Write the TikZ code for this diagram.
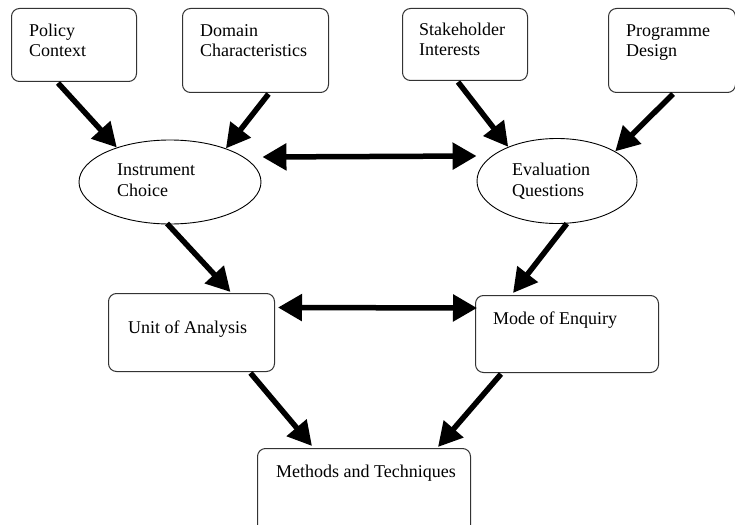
\documentclass[tikz,border=0pt]{standalone}
\usepackage{fontspec}
\setmainfont{Liberation Serif}
\usetikzlibrary{arrows.meta,calc,shapes.geometric}
\begin{document}
\begin{tikzpicture}[x=1pt,y=-1pt,
  box/.style={draw=black!80,line width=1pt,rounded corners=8pt,anchor=north west,inner sep=0pt},
  oval/.style={draw=black,line width=0.9pt,ellipse,inner sep=0pt},
  lbl/.style={anchor=base west,inner sep=0pt,align=left,font=\fontsize{18}{20.5}\selectfont},
  arr/.style={line width=5.5pt,-{Triangle[length=24pt,width=25pt]}},
  darr/.style={line width=5.5pt,{Triangle[length=24pt,width=26pt]}-{Triangle[length=24pt,width=26pt]}}]
\useasboundingbox (0,0) rectangle (735,524);
\fill[white] (0,0) rectangle (735,524);
% boxes
\node[box,minimum width=125pt,minimum height=73pt] (pc) at (11,8) {};
\node[box,minimum width=146pt,minimum height=84pt] (dc) at (182,8) {};
\node[box,minimum width=125pt,minimum height=72pt] (si) at (402,8) {};
\node[box,minimum width=127pt,minimum height=84pt] (pd) at (608,8) {};
\node[oval,minimum width=182pt,minimum height=84pt] (ic) at (170,182) {};
\node[oval,minimum width=160pt,minimum height=85pt] (eq) at (557,181) {};
\node[box,minimum width=166pt,minimum height=78pt] (ua) at (108,293) {};
\node[box,minimum width=183pt,minimum height=77pt] (me) at (475,295) {};
\node[box,minimum width=213pt,minimum height=90pt] (mt) at (257,448) {};
% labels (base = last line)
\node[lbl] (pct) at (29,57) {Policy\\Context};
\node[lbl] (dct) at (200,57) {Domain\\Characteristics};
\node[lbl] (sit) at (419,56) {Stakeholder\\Interests};
\node[lbl] (pdt) at (626,57) {Programme\\Design};
\node[lbl] (ict) at (117,196) {Instrument\\Choice};
\node[lbl] (eqt) at (512,196) {Evaluation\\Questions};
\node[lbl] (uat) at (128,333) {Unit of Analysis};
\node[lbl] (met) at (493,324) {Mode of Enquiry};
\node[lbl] (mtt) at (276,477) {Methods and Techniques};
% arrows
\draw[arr] ($(pc.south)+(-16,1)$) -- (ic.147);
\draw[arr] ($(dc.south)+(13,1)$) -- (ic.31);
\draw[arr] ($(si.south)+(-7,1)$) -- (eq.145);
\draw[arr] ($(pd.south)+(1,1)$) -- (eq.27);
\draw[darr] ($(ic.east)+(1,-25)$) -- ($(eq.west)+(0,-25)$);
\draw[arr] ($(ic.south)+(-3,-1)$) -- ($(ua.north)+(39,-1)$);
\draw[arr] (eq.-77) -- ($(me.north)+(-54,-2)$);
\draw[darr] ($(ua.east)+(3,-25)$) -- ($(me.west)+(2,-26)$);
\draw[arr] ($(ua.south)+(59,1)$) -- ($(mt.north)+(-52,-2)$);
\draw[arr] ($(me.south)+(-66,1)$) -- ($(mt.north)+(74,-1)$);
\end{tikzpicture}
\end{document}
